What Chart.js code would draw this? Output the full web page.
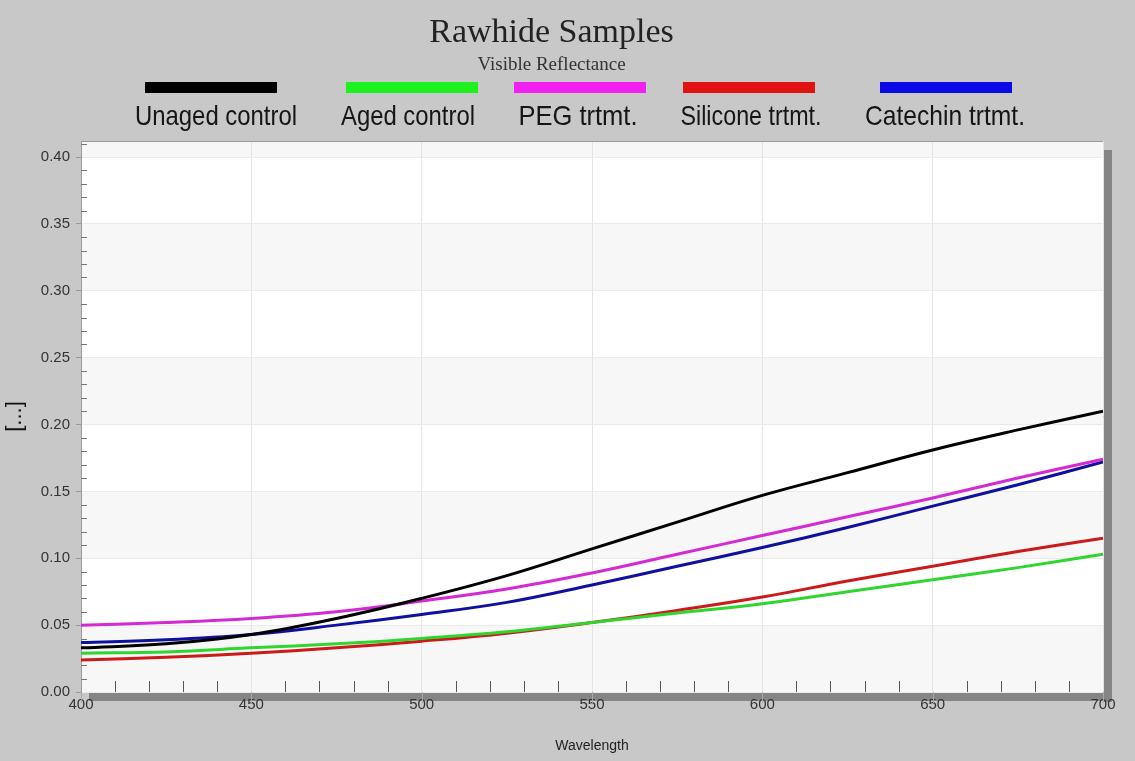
<!DOCTYPE html>
<html lang="en">
<head>
<meta charset="UTF-8">
<title>Rawhide Samples</title>
<script src="https://cdn.jsdelivr.net/npm/chart.js@4.4.0/dist/chart.umd.min.js"></script>
<style>
    html, body { margin: 0; padding: 0; background: #c8c8c8; }
    #wrap { width: 1135px; height: 761px; position: relative; }
</style>
</head>
<body>
<div id="wrap"><canvas id="grafico"></canvas></div>

<script>
// wavelengths (nm) and reflectance
const wavelengths = [400, 425, 450, 475, 500, 525, 550, 575, 600, 625, 650, 675, 700];
const unagedControl = [0.033, 0.036, 0.043, 0.055, 0.070, 0.087, 0.107, 0.127, 0.147, 0.164, 0.181, 0.196, 0.210];
const agedControl   = [0.029, 0.030, 0.033, 0.036, 0.040, 0.045, 0.052, 0.059, 0.066, 0.075, 0.084, 0.093, 0.103];
const pegTrtmt      = [0.050, 0.052, 0.055, 0.060, 0.068, 0.077, 0.089, 0.103, 0.117, 0.131, 0.145, 0.160, 0.174];
const siliconeTrtmt = [0.024, 0.026, 0.029, 0.033, 0.038, 0.044, 0.052, 0.061, 0.071, 0.083, 0.094, 0.105, 0.115];
const catechinTrtmt = [0.037, 0.039, 0.043, 0.050, 0.058, 0.067, 0.080, 0.094, 0.108, 0.123, 0.139, 0.155, 0.172];
const seriesLabels = ['Unaged control', 'Aged control', 'PEG trtmt.', 'Silicone trtmt.', 'Catechin trtmt.'];
const yTicks = [0, 0.05, 0.10, 0.15, 0.20, 0.25, 0.30, 0.35, 0.40];

const toPoints = values => values.map((v, i) => ({ x: wavelengths[i], y: v }));

// fondo del area, bandas, sombra y ticks menores
const plotExtras = {
    id: 'plotExtras',
    beforeDraw(chart) {
        const { ctx, chartArea: { left, right, top, bottom }, scales: { y } } = chart;
        ctx.save();
        ctx.fillStyle = '#858585';
        ctx.fillRect(left + 8, bottom + 1, right - left + 1, 8);
        ctx.fillRect(right, top + 9, 9, bottom - top + 1);
        ctx.fillStyle = '#ffffff';
        ctx.fillRect(left, top, right - left, bottom - top);
        ctx.fillStyle = '#f7f7f7';
        for (let lo = 0; lo < y.max; lo += 0.1) {
            const hi = Math.min(lo + 0.05, y.max);
            const y1 = y.getPixelForValue(hi), y2 = y.getPixelForValue(lo);
            ctx.fillRect(left, y1, right - left, y2 - y1);
        }
        ctx.restore();
    },
    beforeDatasetsDraw(chart) {
        const { ctx, chartArea: { left, right, top, bottom }, scales: { x, y } } = chart;
        ctx.save();
        ctx.lineWidth = 1;
        // x ticks
        for (let wl = x.min; wl <= x.max; wl += 10) {
            const px = Math.round(x.getPixelForValue(wl)) + 0.5;
            ctx.beginPath();
            if (wl % 50 === 0) {
                ctx.strokeStyle = '#a8a8a8';
                ctx.moveTo(px, bottom);
                ctx.lineTo(px, bottom + 11);
            } else {
                ctx.strokeStyle = '#555';
                ctx.moveTo(px, bottom);
                ctx.lineTo(px, bottom - 11);
            }
            ctx.stroke();
        }
        // y minor ticks
        ctx.strokeStyle = '#777';
        for (let i = 1; i / 100 < y.max; i++) {
            if (i % 5 === 0) continue;
            const py = Math.round(y.getPixelForValue(i / 100)) + 0.5;
            ctx.beginPath();
            ctx.moveTo(left, py);
            ctx.lineTo(left + 6, py);
            ctx.stroke();
        }
        // borde superior
        ctx.strokeStyle = '#9a9a9a';
        ctx.beginPath();
        ctx.moveTo(left, top + 0.5);
        ctx.lineTo(right, top + 0.5);
        ctx.stroke();
        ctx.restore();
    }
};

// leyenda: muestra de color arriba, texto abajo
const stackedLegend = {
    id: 'stackedLegend',
    afterDraw(chart, args, opts) {
        const { ctx } = chart;
        ctx.save();
        chart.data.datasets.forEach((ds, i) => {
            const cx = opts.swatchCenters[i];
            ctx.fillStyle = ds.legendColor;
            ctx.fillRect(cx - 66, opts.swatchY - 6, 132, 11);

            ctx.font = '28px "Liberation Sans Narrow", "Liberation Sans", Arial, sans-serif';
            ctx.fillStyle = '#151515';
            ctx.textAlign = 'center';
            ctx.textBaseline = 'middle';
            const w = ctx.measureText(ds.label).width;
            const sx = opts.textWidths[i] / w;
            ctx.save();
            ctx.translate(opts.textCenters[i], opts.textY);
            ctx.scale(sx, 1);
            ctx.fillText(ds.label, 0, 0);
            ctx.restore();
        });
        ctx.restore();
    }
};

const ctx = document.getElementById('grafico').getContext('2d');

new Chart(ctx, {
    type: 'line',
    data: {
        datasets: [
            { label: seriesLabels[0], data: toPoints(unagedControl), borderColor: '#000000', legendColor: '#000000' },
            { label: seriesLabels[1], data: toPoints(agedControl), borderColor: '#2fd62f', legendColor: '#1ff01f' },
            { label: seriesLabels[2], data: toPoints(pegTrtmt), borderColor: '#d42ad4', legendColor: '#f020f0' },
            { label: seriesLabels[3], data: toPoints(siliconeTrtmt), borderColor: '#cc1a1a', legendColor: '#e01212' },
            { label: seriesLabels[4], data: toPoints(catechinTrtmt), borderColor: '#10109e', legendColor: '#0a0ae6' }
        ]
    },
    options: {
        responsive: true,
        maintainAspectRatio: false,
        animation: false,
        layout: { padding: { left: 0, right: 32, top: 0, bottom: 0 } },
        elements: {
            line: { borderWidth: 3, tension: 0.4, fill: false },
            point: { radius: 0 }
        },
        scales: {
            x: {
                type: 'linear',
                min: 400,
                max: 700,
                ticks: {
                    stepSize: 50,
                    padding: 4,
                    color: '#333',
                    font: { family: '"Liberation Sans", Arial, sans-serif', size: 15 }
                },
                grid: { color: '#e4e4e4', drawTicks: false },
                border: { display: false },
                title: {
                    display: true,
                    text: 'Wavelength',
                    color: '#222',
                    padding: { top: 4, bottom: 6 },
                    font: { family: '"Liberation Sans", Arial, sans-serif', size: 14 }
                },
                afterFit(scale) { scale.height = 69; }
            },
            y: {
                min: 0,
                max: 0.412,
                afterBuildTicks(scale) {
                    scale.ticks = yTicks.map(v => ({ value: v }));
                },
                ticks: {
                    padding: 6,
                    color: '#333',
                    font: { family: '"Liberation Sans", Arial, sans-serif', size: 15 },
                    callback: v => Number(v).toFixed(2)
                },
                grid: { color: '#ebebeb', tickLength: 5, tickColor: '#8a9caf' },
                border: { color: '#9a9a9a' },
                title: {
                    display: true,
                    text: '[...]',
                    color: '#111',
                    padding: { top: 2, bottom: 0 },
                    font: { family: '"Liberation Sans", Arial, sans-serif', size: 22 }
                },
                afterFit(scale) { scale.width = 81; }
            }
        },
        plugins: {
            legend: { display: false },
            tooltip: { enabled: false },
            title: {
                display: true,
                text: 'Rawhide Samples',
                color: '#222',
                padding: { top: 13, bottom: 0 },
                font: { family: '"Liberation Serif", "Times New Roman", serif', size: 34, weight: 'normal' }
            },
            subtitle: {
                display: true,
                text: 'Visible Reflectance',
                color: '#333',
                padding: { top: 0, bottom: 64.4 },
                font: { family: '"Liberation Serif", "Times New Roman", serif', size: 19 }
            },
            stackedLegend: {
                swatchCenters: [211, 412, 580, 749, 946],
                swatchY: 88,
                textCenters: [216, 408, 578, 751, 945],
                textWidths: [162, 134, 119, 141, 160],
                textY: 117
            }
        }
    },
    plugins: [plotExtras, stackedLegend]
});
</script>
</body>
</html>
